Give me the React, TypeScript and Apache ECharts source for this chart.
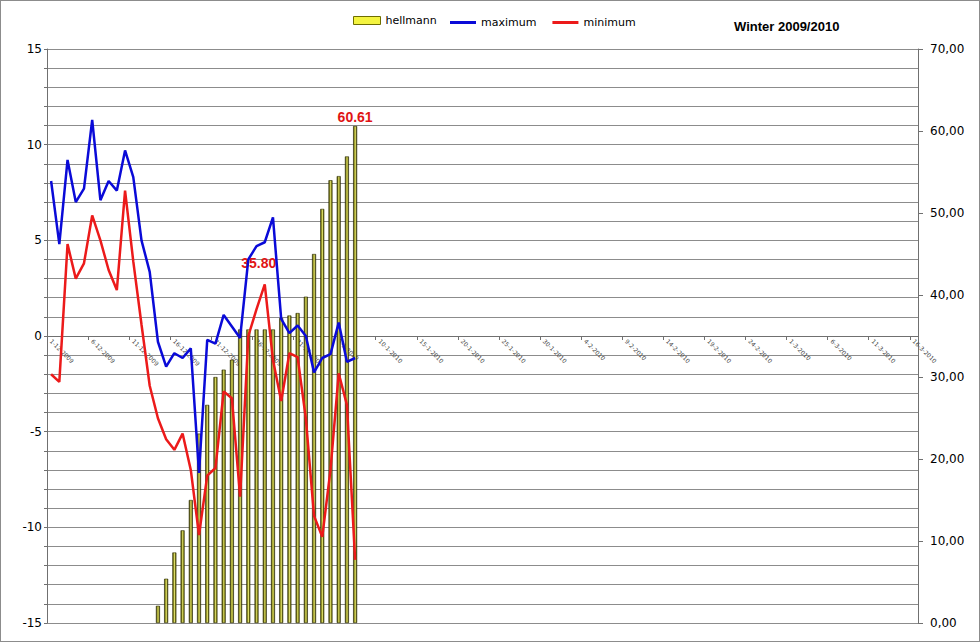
import React, { useEffect, useRef } from "react";
import * as echarts from "echarts";

// ---- data ----
const START_DATE = { year: 2009, month: 12, day: 1 };
const DAY_COUNT = 106; // 1-12-2009 .. 16-3-2010

const hellmann: (number | null)[] = [
  null, null, null, null, null, null, null, null, null, null, null, null, null,
  2.1, 5.4, 8.6, 11.3, 15.0, 23.1, 26.6, 30.0, 30.9, 32.1, 35.8, 35.8, 35.8,
  35.8, 35.8, 37.2, 37.5, 37.8, 39.8, 45.0, 50.5, 54.0, 54.5, 56.9, 60.61,
];

const maximum: number[] = [
  8.1, 4.8, 9.2, 7.0, 7.7, 11.3, 7.1, 8.1, 7.6, 9.7, 8.3, 5.0, 3.35, -0.3,
  -1.6, -0.9, -1.15, -0.65, -7.15, -0.2, -0.4, 1.1, 0.5, -0.1, 4.0, 4.7, 4.9,
  6.2, 0.9, 0.15, 0.55, 0.0, -1.9, -1.15, -0.95, 0.7, -1.35, -1.15,
];

const minimum: number[] = [
  -2.0, -2.4, 4.8, 3.0, 3.8, 6.3, 5.0, 3.45, 2.4, 7.6, 3.9, 0.6, -2.6, -4.3,
  -5.4, -5.95, -5.1, -7.0, -10.4, -7.3, -6.9, -2.9, -3.25, -8.4, 0.0, 1.4, 2.7,
  -1.25, -3.4, -0.9, -1.1, -4.3, -9.4, -10.5, -7.0, -1.95, -3.6, -11.7,
];

const labelledBars: { index: number; text: string; offset: number[] }[] = [
  { index: 26, text: "35.80", offset: [-6, -57] },
  { index: 37, text: "60.61", offset: [0, 0] },
];

const leftTicks = { min: -15, max: 15, step: 1, labelEvery: 5 };
const rightTicks = { min: 0, max: 70, step: 10 };

function buildCategories(): string[] {
  const out: string[] = [];
  const d = new Date(START_DATE.year, START_DATE.month - 1, START_DATE.day);
  for (let i = 0; i < DAY_COUNT; i++) {
    out.push(`${d.getDate()}-${d.getMonth() + 1}-${d.getFullYear()}`);
    d.setDate(d.getDate() + 1);
  }
  return out;
}

const FONT = "DejaVu Sans";
const GRID = { left: 46, right: 61, top: 48, bottom: 18 };

export default function App() {
  const ref = useRef<HTMLDivElement>(null);

  useEffect(() => {
    if (!ref.current) return;
    const chart = echarts.init(ref.current, undefined, { renderer: "svg" });
    const categories = buildCategories();

    // place the category axis where the left value axis crosses zero
    const height = ref.current.clientHeight;
    const plotH = height - GRID.top - GRID.bottom;
    const zeroFromBottom =
      (plotH * (0 - leftTicks.min)) / (leftTicks.max - leftTicks.min);

    const barGradient = new echarts.graphic.LinearGradient(0, 0, 1, 0, [
      { offset: 0, color: "#2a2a00" },
      { offset: 0.3, color: "#9a9a2a" },
      { offset: 0.55, color: "#dede6a" },
      { offset: 0.8, color: "#85851c" },
      { offset: 1, color: "#222200" },
    ]);

    const barData = hellmann.map((v, i) => {
      const lab = labelledBars.find((l) => l.index === i);
      if (v !== null && lab) {
        return {
          value: v,
          label: {
            show: true,
            position: "top",
            distance: 2,
            formatter: lab.text,
            offset: lab.offset,
            color: "#e01414",
            fontWeight: "bold",
            fontSize: 14,
            fontFamily: "Liberation Sans",
          },
        };
      }
      return v;
    });

    chart.setOption({
      animation: false,
      backgroundColor: "#ffffff",
      title: {
        text: "Winter 2009/2010",
        left: 733,
        top: 19,
        padding: 0,
        textStyle: {
          fontFamily: "Liberation Sans",
          fontWeight: "bold",
          fontSize: 13,
          color: "#000",
        },
      },
      legend: [
        {
          left: 352,
          top: 14,
          padding: 0,
          itemWidth: 27,
          itemHeight: 8,
          textStyle: { fontFamily: FONT, fontSize: 11, color: "#000" },
          data: [
            {
              name: "hellmann",
              icon: "rect",
              itemStyle: { color: "#f4f440", borderColor: "#6e6e00", borderWidth: 1 },
            },
          ],
        },
        {
          left: 449,
          top: 16,
          padding: 0,
          itemWidth: 26,
          itemHeight: 3,
          itemGap: 16,
          textStyle: { fontFamily: FONT, fontSize: 11, color: "#000" },
          data: [
            { name: "maximum", icon: "rect", itemStyle: { color: "#0a0ad8" } },
            { name: "minimum", icon: "rect", itemStyle: { color: "#ec1a1a" } },
          ],
        },
      ],
      grid: {
        ...GRID,
        containLabel: false,
        outerBoundsMode: "none",
      },
      xAxis: {
        type: "category",
        data: categories,
        boundaryGap: true,
        offset: -zeroFromBottom,
        axisLine: {
          onZero: false,
          lineStyle: { color: "#707070", width: 1 },
        },
        axisTick: { show: true, interval: 4, length: 4, lineStyle: { color: "#707070" } },
        axisLabel: {
          interval: 4,
          rotate: -45,
          fontSize: 6,
          fontFamily: FONT,
          color: "#444",
          margin: 4,
        },
        splitLine: { show: false },
      },
      yAxis: [
        {
          type: "value",
          min: leftTicks.min,
          max: leftTicks.max,
          interval: leftTicks.step,
          axisLine: { show: true, lineStyle: { color: "#707070" } },
          axisTick: { show: true, length: 3, lineStyle: { color: "#707070" } },
          axisLabel: {
            fontFamily: FONT,
            fontSize: 12,
            color: "#000",
            margin: 5,
            formatter: (v: number) =>
              Math.round(v) % leftTicks.labelEvery === 0 ? String(Math.round(v)) : "",
          },
          splitLine: { show: true, lineStyle: { color: "#8c8c8c", width: 1 } },
        },
        {
          type: "value",
          min: rightTicks.min,
          max: rightTicks.max,
          interval: rightTicks.step,
          position: "right",
          axisLine: { show: true, onZero: false, lineStyle: { color: "#707070" } },
          axisTick: { show: true, length: 5, lineStyle: { color: "#707070" } },
          axisLabel: {
            fontFamily: FONT,
            fontSize: 12,
            color: "#000",
            margin: 12,
            formatter: (v: number) => v.toFixed(2).replace(".", ","),
          },
          splitLine: { show: false },
        },
      ],
      series: [
        {
          name: "hellmann",
          type: "bar",
          yAxisIndex: 1,
          barWidth: 4,
          data: barData,
          itemStyle: { color: barGradient, borderColor: "#303000", borderWidth: 0.6 },
        },
        {
          name: "maximum",
          type: "line",
          yAxisIndex: 0,
          data: maximum,
          symbol: "none",
          lineStyle: { color: "#0a0ad8", width: 2.5 },
          itemStyle: { color: "#0a0ad8" },
        },
        {
          name: "minimum",
          type: "line",
          yAxisIndex: 0,
          data: minimum,
          symbol: "none",
          lineStyle: { color: "#ec1a1a", width: 2.5 },
          itemStyle: { color: "#ec1a1a" },
        },
      ],
    });

    return () => chart.dispose();
  }, []);

  return (
    <div
      ref={ref}
      style={{
        position: "fixed",
        left: 0,
        top: 0,
        width: 980,
        height: 642,
        boxSizing: "border-box",
        border: "1px solid #8c8c8c",
        background: "#fff",
      }}
    />
  );
}
